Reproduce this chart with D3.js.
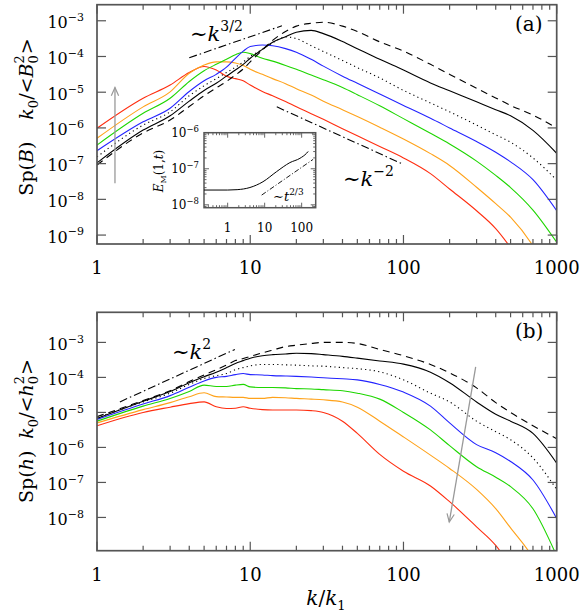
<!DOCTYPE html>
<html>
<head>
<meta charset="utf-8">
<script src="https://cdn.jsdelivr.net/npm/d3@7"></script>
<style>
  body { margin: 0; background: #fff; }
  svg { display: block; }
  text { font-family: "DejaVu Serif", serif; fill: #000; }
</style>
</head>
<body>
<svg width="581" height="613"></svg>
<script>
// Wavenumbers k/k1 shared by every spectrum
const kGrid = [1, 2, 3, 4, 5, 6, 7, 8, 9, 10, 12, 14, 17, 20, 25, 30, 40, 50, 70, 100, 150, 200, 300, 400, 500, 700, 1000];

// Panel (a): log10 of Sp(B) k0/<B0^2>, early to late times
const redA    = [-6.01, -5.17, -4.80, -4.45, -4.28, -4.38, -4.55, -4.62, -4.68, -4.80, -4.98, -5.10, -5.26, -5.41, -5.60, -5.76, -6.02, -6.22, -6.52, -6.84, -7.28, -7.71, -8.32, -8.82, -9.35, -10.3, -11.5];
const orangeA = [-6.29, -5.41, -4.99, -4.47, -4.24, -4.15, -4.15, -4.18, -4.25, -4.36, -4.50, -4.62, -4.76, -4.90, -5.08, -5.25, -5.49, -5.68, -5.98, -6.31, -6.72, -7.05, -7.66, -8.12, -8.50, -9.30, -10.5];
const greenA  = [-6.48, -5.59, -5.17, -4.70, -4.40, -4.22, -4.08, -3.95, -3.88, -3.92, -4.05, -4.13, -4.25, -4.36, -4.52, -4.65, -4.87, -5.07, -5.38, -5.74, -6.15, -6.45, -6.93, -7.33, -7.67, -8.30, -9.20];
const blueA   = [-6.64, -5.83, -5.45, -4.98, -4.68, -4.50, -4.30, -4.05, -3.85, -3.72, -3.68, -3.70, -3.78, -3.88, -4.08, -4.27, -4.55, -4.75, -5.05, -5.37, -5.73, -6.00, -6.38, -6.68, -6.95, -7.45, -8.32];
const dotA    = [-6.81, -5.92, -5.55, -5.10, -4.82, -4.62, -4.45, -4.30, -4.15, -4.00, -3.80, -3.62, -3.45, -3.50, -3.70, -3.86, -4.11, -4.31, -4.60, -4.95, -5.30, -5.55, -5.92, -6.19, -6.40, -6.84, -7.46];
const solidA  = [-6.98, -6.06, -5.66, -5.25, -4.95, -4.75, -4.55, -4.38, -4.22, -4.05, -3.80, -3.60, -3.45, -3.32, -3.27, -3.36, -3.58, -3.78, -4.08, -4.38, -4.74, -4.96, -5.27, -5.49, -5.66, -6.07, -6.71];
const dashA   = [-7.04, -6.14, -5.78, -5.40, -5.10, -4.88, -4.70, -4.52, -4.35, -4.15, -3.82, -3.55, -3.30, -3.15, -3.07, -3.04, -3.15, -3.30, -3.59, -3.85, -4.22, -4.50, -4.89, -5.16, -5.37, -5.64, -6.00];

// Panel (b): log10 of Sp(h) k0/<h0^2>
const redB    = [-5.38, -5.00, -4.85, -4.75, -4.70, -4.84, -4.89, -4.88, -4.84, -4.88, -4.92, -4.93, -4.93, -4.93, -4.95, -5.00, -5.25, -5.60, -6.20, -6.68, -7.10, -7.55, -8.27, -8.80, -9.40, -10.5, -12.0];
const orangeB = [-5.30, -4.92, -4.72, -4.55, -4.44, -4.55, -4.56, -4.57, -4.57, -4.60, -4.60, -4.57, -4.58, -4.60, -4.62, -4.64, -4.70, -4.85, -5.25, -5.70, -6.22, -6.60, -7.20, -7.75, -8.30, -9.15, -10.5];
const greenB  = [-5.25, -4.82, -4.60, -4.40, -4.22, -4.26, -4.26, -4.22, -4.20, -4.27, -4.29, -4.29, -4.30, -4.32, -4.33, -4.35, -4.38, -4.45, -4.62, -5.00, -5.50, -5.95, -6.55, -6.85, -7.12, -7.75, -9.10];
const blueB   = [-5.20, -4.76, -4.52, -4.28, -4.10, -4.00, -3.97, -3.92, -3.89, -3.92, -3.93, -3.95, -3.96, -3.97, -3.99, -4.01, -4.04, -4.07, -4.20, -4.42, -4.82, -5.30, -5.92, -6.15, -6.40, -6.93, -8.03];
const dotB    = [-5.15, -4.70, -4.45, -4.20, -4.03, -3.95, -3.89, -3.78, -3.72, -3.67, -3.63, -3.63, -3.64, -3.65, -3.67, -3.68, -3.72, -3.75, -3.84, -4.07, -4.45, -4.70, -5.25, -5.55, -5.78, -6.30, -7.20];
const solidB  = [-5.17, -4.68, -4.40, -4.15, -3.98, -3.85, -3.72, -3.60, -3.52, -3.45, -3.38, -3.35, -3.33, -3.31, -3.32, -3.35, -3.40, -3.45, -3.53, -3.62, -3.85, -4.15, -4.70, -5.05, -5.25, -5.60, -6.45];
const dashB   = [-5.12, -4.66, -4.38, -4.12, -3.93, -3.78, -3.65, -3.52, -3.46, -3.40, -3.30, -3.22, -3.12, -3.08, -3.03, -3.00, -3.00, -3.03, -3.20, -3.38, -3.63, -3.87, -4.30, -4.72, -5.00, -5.38, -5.75];

// Power-law guide lines: [k, log10 value] at each end
const guide32 = [[4.0, -4.035], [16.1, -3.14]];
const guideM2 = [[14.9, -5.41], [97.5, -7.0]];
const guide2  = [[1.41, -4.70], [7.94, -3.20]];

// Inset: E_M(1,t) versus t
const tInset = [0.23, 1, 1.8, 4, 9, 21, 48, 90, 136, 150];
const eInset = [-7.59, -7.59, -7.58, -7.52, -7.36, -7.08, -6.83, -6.71, -6.57, -6.52];
const guideT = [[8.3, -7.73], [204, -6.74]];

// Tick exponents
const yExpA = [-3, -4, -5, -6, -7, -8, -9];
const yExpB = [-3, -4, -5, -6, -7, -8];
const yExpInset = [-6, -7, -8];
const xLabels = [1, 10, 100, 1000];
const xLabelsInset = [1, 10, 100];

const svg = d3.select('svg');
const left = 97, right = 556.7;
const frameColor = '#555';

const styles = [
  { c: '#ff2e10' },
  { c: '#ffa21a' },
  { c: '#1ed600' },
  { c: '#2323ff' },
  { c: '#000', dash: '1.2,3.2' },
  { c: '#000' },
  { c: '#000', dash: '7,5' }
];

// helper: text with a superscript exponent
function powText(g, x, y, base, exp, size, supSize, anchor) {
  let t = g.append('text')
    .attr('x', x).attr('y', y)
    .attr('text-anchor', anchor)
    .attr('font-size', size);
  t.append('tspan').text(base);
  t.append('tspan').attr('dy', -size * 0.45).attr('font-size', supSize).text(exp);
  return t;
}

function drawPanel(p) {
  let x = d3.scaleLog().domain([1, 1000]).range([left, right]);
  let y = d3.scaleLog().domain([Math.pow(10, p.lo), Math.pow(10, p.hi)]).range([p.bottom, p.top]);

  svg.append('clipPath').attr('id', 'clip' + p.name)
    .append('rect')
    .attr('x', left).attr('y', p.top)
    .attr('width', right - left).attr('height', p.bottom - p.top);

  let g = svg.append('g').attr('clip-path', 'url(#clip' + p.name + ')');

  let line = d3.line()
    .x(d => x(d[0]))
    .y(d => y(Math.pow(10, d[1])))
    .curve(d3.curveMonotoneX);

  p.series.forEach((s, i) => {
    g.append('path')
      .datum(kGrid.map((k, j) => [k, s[j]]))
      .attr('d', line)
      .attr('fill', 'none')
      .attr('stroke', styles[i].c)
      .attr('stroke-width', 1.1)
      .attr('stroke-dasharray', styles[i].dash || null);
  });

  // dash-dot guides
  p.guides.forEach(gd => {
    g.append('path')
      .datum(gd)
      .attr('d', d3.line().x(d => x(d[0])).y(d => y(Math.pow(10, d[1]))))
      .attr('fill', 'none')
      .attr('stroke', '#000')
      .attr('stroke-width', 1.1)
      .attr('stroke-dasharray', '8,3,1.5,3');
  });

  // arrow
  let a0 = [x(p.arrow[0][0]), y(Math.pow(10, p.arrow[0][1]))];
  let a1 = [x(p.arrow[1][0]), y(Math.pow(10, p.arrow[1][1]))];
  let ang = Math.atan2(a1[1] - a0[1], a1[0] - a0[0]);
  svg.append('line')
    .attr('x1', a0[0]).attr('y1', a0[1]).attr('x2', a1[0]).attr('y2', a1[1])
    .attr('stroke', '#999').attr('stroke-width', 1.3);
  let hl = 9, ha = 0.42;
  svg.append('polyline')
    .attr('points', [
      [a1[0] - hl * Math.cos(ang - ha), a1[1] - hl * Math.sin(ang - ha)],
      a1,
      [a1[0] - hl * Math.cos(ang + ha), a1[1] - hl * Math.sin(ang + ha)]
    ].map(q => q.join(',')).join(' '))
    .attr('fill', 'none').attr('stroke', '#999').attr('stroke-width', 1.2);

  // frame
  svg.append('rect')
    .attr('x', left).attr('y', p.top)
    .attr('width', right - left).attr('height', p.bottom - p.top)
    .attr('fill', 'none').attr('stroke', frameColor).attr('stroke-width', 1.7);

  // x ticks (bottom and top)
  let ax = svg.append('g').attr('stroke', frameColor).attr('stroke-width', 1.2);
  x.ticks().forEach(t => {
    let major = Math.abs(Math.log10(t) - Math.round(Math.log10(t))) < 1e-9;
    let len = major ? 9 : 5;
    ax.append('line').attr('x1', x(t)).attr('x2', x(t)).attr('y1', p.bottom).attr('y2', p.bottom - len);
    ax.append('line').attr('x1', x(t)).attr('x2', x(t)).attr('y1', p.top).attr('y2', p.top + len);
  });
  // y ticks (left and right)
  p.yExp.forEach(e => {
    let yy = y(Math.pow(10, e));
    ax.append('line').attr('x1', left).attr('x2', left + 9).attr('y1', yy).attr('y2', yy);
    ax.append('line').attr('x1', right).attr('x2', right - 9).attr('y1', yy).attr('y2', yy);
    powText(svg, 84, yy + 7.5, '10', '\u2212' + Math.abs(e), 16, 11, 'end');
  });

  xLabels.forEach(v => {
    svg.append('text')
      .attr('x', x(v)).attr('y', p.bottom + 30)
      .attr('text-anchor', 'middle')
      .attr('font-size', 18)
      .text(v);
  });

  // panel letter
  svg.append('text')
    .attr('x', 515).attr('y', p.top + 26)
    .attr('font-size', 20)
    .text(p.label);

  return { x: x, y: y };
}

// y-axis title with sub/superscripts, rotated
function yTitle(cx, cy, sym, gap) {
  let t = svg.append('text')
    .attr('transform', 'translate(' + cx + ',' + cy + ')rotate(-90)')
    .attr('text-anchor', 'middle')
    .attr('font-size', 19);
  t.append('tspan').text('Sp(');
  t.append('tspan').attr('font-style', 'italic').text(sym);
  t.append('tspan').text(')');
  t.append('tspan').attr('dx', gap).attr('font-style', 'italic').text('k');
  t.append('tspan').attr('dy', 5).attr('font-size', 13).text('0');
  t.append('tspan').attr('dy', -5).text('/<');
  t.append('tspan').attr('font-style', 'italic').text(sym);
  t.append('tspan').attr('dy', 5).attr('font-size', 13).text('0');
  t.append('tspan').attr('dy', -14).attr('dx', -8.3).attr('font-size', 13).text('2');
  t.append('tspan').attr('dy', 9).attr('dx', 1).text('>');
}

// power-law label like ~k^{3/2}
function lawLabel(x0, y0, v, e) {
  let t = svg.append('text').attr('x', x0).attr('y', y0).attr('font-size', 21);
  t.append('tspan').text('\u223C');
  t.append('tspan').attr('font-style', 'italic').text(v);
  t.append('tspan').attr('dy', -10).attr('font-size', 14).text(e);
  return t;
}

// Panel (a)
let pa = drawPanel({
  name: 'a', top: 4.7, bottom: 244, lo: -9.25, hi: -2.55, yExp: yExpA,
  series: [redA, orangeA, greenA, blueA, dotA, solidA, dashA],
  guides: [guide32, guideM2],
  arrow: [[1.31, -7.55], [1.31, -4.87]],
  label: '(a)'
});

// Panel (b)
let pb = drawPanel({
  name: 'b', top: 312.3, bottom: 550.7, lo: -8.95, hi: -2.14, yExp: yExpB,
  series: [redB, orangeB, greenB, blueB, dotB, solidB, dashB],
  guides: [guide2],
  arrow: [[296, -3.70], [199, -8.13]],
  label: '(b)'
});

lawLabel(190, 41, 'k', '3/2');
lawLabel(343, 186, 'k', '\u22122');
lawLabel(172, 359, 'k', '2');

yTitle(33, 117, 'B', 22);
yTitle(33, 431, 'h', 12);

// x-axis title k/k1
let xt = svg.append('text')
  .attr('x', 326).attr('y', 605)
  .attr('text-anchor', 'middle')
  .attr('font-size', 20);
xt.append('tspan').attr('font-style', 'italic').text('k');
xt.append('tspan').text('/');
xt.append('tspan').attr('font-style', 'italic').text('k');
xt.append('tspan').attr('dy', 5).attr('font-size', 13).text('1');

// Inset in panel (a)
const iL = 204, iR = 315.7, iT = 132.7, iB = 207.7;
let xi = d3.scaleLog().domain([Math.pow(10, -0.64), Math.pow(10, 2.38)]).range([iL, iR]);
let yi = d3.scaleLog().domain([Math.pow(10, -8.08), 1e-6]).range([iB, iT]);

svg.append('rect')
  .attr('x', iL).attr('y', iT).attr('width', iR - iL).attr('height', iB - iT)
  .attr('fill', '#fff').attr('stroke', frameColor).attr('stroke-width', 1.5);

let ig = svg.append('g').attr('stroke', frameColor).attr('stroke-width', 0.9);
xi.ticks().forEach(t => {
  let major = Math.abs(Math.log10(t) - Math.round(Math.log10(t))) < 1e-9;
  let len = major ? 5 : 2.5;
  ig.append('line').attr('x1', xi(t)).attr('x2', xi(t)).attr('y1', iB).attr('y2', iB - len);
  ig.append('line').attr('x1', xi(t)).attr('x2', xi(t)).attr('y1', iT).attr('y2', iT + len);
});
yi.ticks().forEach(t => {
  let major = Math.abs(Math.log10(t) - Math.round(Math.log10(t))) < 1e-9;
  let len = major ? 5 : 2.5;
  ig.append('line').attr('x1', iL).attr('x2', iL + len).attr('y1', yi(t)).attr('y2', yi(t));
  ig.append('line').attr('x1', iR).attr('x2', iR - len).attr('y1', yi(t)).attr('y2', yi(t));
});

yExpInset.forEach(e => {
  powText(svg, 199, yi(Math.pow(10, e)) + 4.5, '10', '\u2212' + Math.abs(e), 12, 8.5, 'end');
});
xLabelsInset.forEach(v => {
  svg.append('text')
    .attr('x', xi(v)).attr('y', 232)
    .attr('text-anchor', 'middle')
    .attr('font-size', 12)
    .text(v);
});

svg.append('path')
  .datum(tInset.map((t, i) => [t, eInset[i]]))
  .attr('d', d3.line().x(d => xi(d[0])).y(d => yi(Math.pow(10, d[1]))).curve(d3.curveMonotoneX))
  .attr('fill', 'none').attr('stroke', '#000').attr('stroke-width', 1);

svg.append('path')
  .datum(guideT)
  .attr('d', d3.line().x(d => xi(d[0])).y(d => yi(Math.pow(10, d[1]))))
  .attr('fill', 'none').attr('stroke', '#000').attr('stroke-width', 0.9)
  .attr('stroke-dasharray', '5,2,1,2');

let tl = svg.append('text').attr('x', 273).attr('y', 201).attr('font-size', 13);
tl.append('tspan').text('\u223C');
tl.append('tspan').attr('font-style', 'italic').text('t');
tl.append('tspan').attr('dy', -6).attr('font-size', 9).text('2/3');

let it = svg.append('text')
  .attr('transform', 'translate(163,171)rotate(-90)')
  .attr('text-anchor', 'middle')
  .attr('font-size', 12);
it.append('tspan').attr('font-style', 'italic').text('E');
it.append('tspan').attr('dy', 3).attr('font-size', 8).text('M');
it.append('tspan').attr('dy', -3).text('(1,');
it.append('tspan').attr('font-style', 'italic').text('t');
it.append('tspan').text(')');
</script>
</body>
</html>
